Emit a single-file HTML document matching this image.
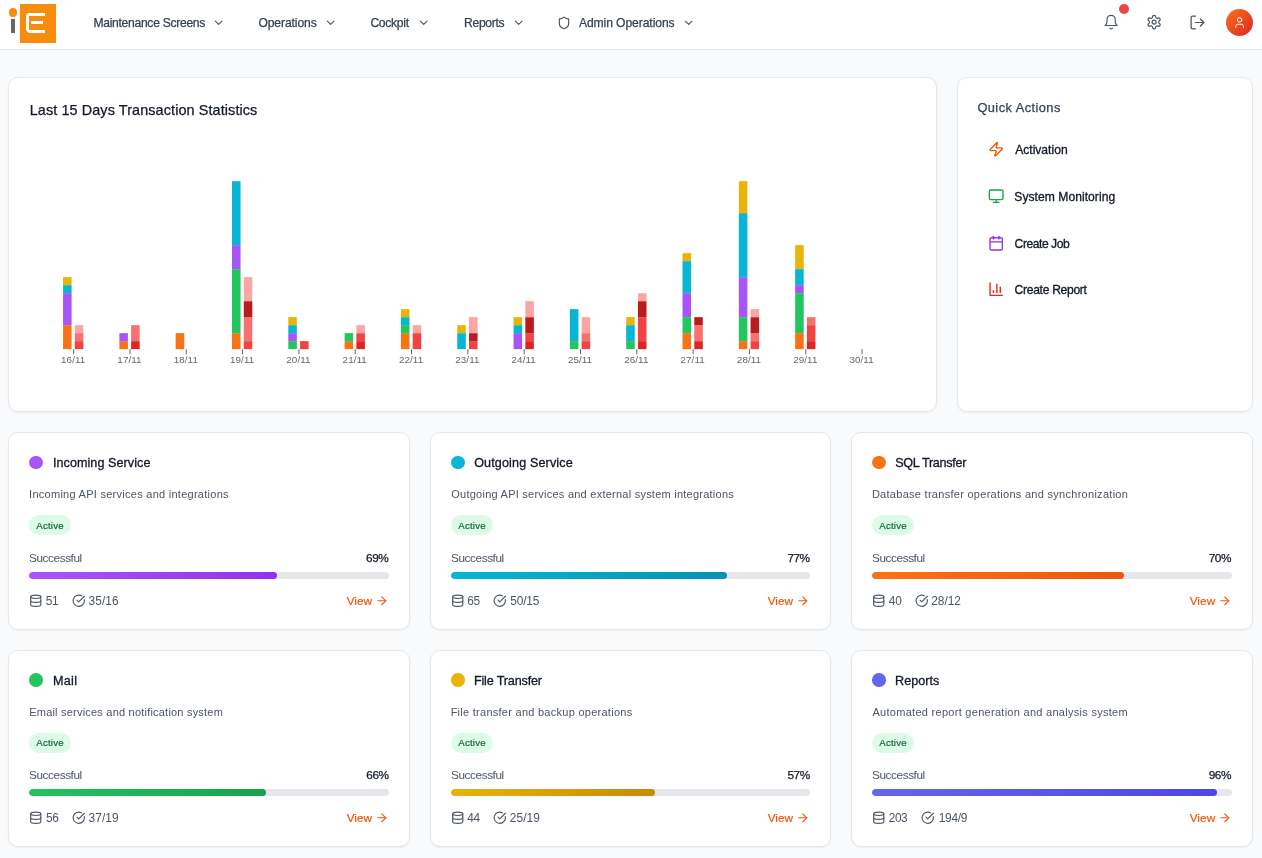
<!DOCTYPE html>
<html lang="en"><head><meta charset="utf-8"><title>Dashboard</title>
<style>
*{box-sizing:border-box;margin:0;padding:0}
html,body{width:1262px;height:858px;overflow:hidden}
body{background:#f9fafb;font-family:"Liberation Sans",sans-serif;position:relative;color:#111827}
.ic{position:absolute;display:block}
.tx{position:absolute;white-space:nowrap;display:block}
.hdr{position:absolute;left:0;top:0;width:1262px;height:50px;background:#fff;border-bottom:1px solid #e5e7eb}
.logo{position:absolute;left:0;top:0;width:60px;height:49px}
.ldot{position:absolute;left:8.7px;top:8.3px;width:8.8px;height:8.8px;border-radius:50%;background:#f78c0d}
.lstem{position:absolute;left:11.1px;top:19px;width:3.9px;height:14px;background:#6b646b}
.lsq{position:absolute;left:20px;top:4px;width:35.7px;height:38.6px;background:#f78c0d;overflow:hidden}
.le1{position:absolute;left:5.95px;top:8.65px;width:19.15px;height:20.45px;border:3.5px solid #fff;border-right:none;border-radius:3.4px 0 0 4.3px}
.le2{position:absolute;left:11px;top:16.9px;width:12.4px;height:3.5px;background:#fff}
.nav{color:#374151;-webkit-text-stroke:0.25px #374151}
.ndot{position:absolute;left:1119px;top:4px;width:10px;height:10px;border-radius:50%;background:#ef4444}
.avatar{position:absolute;left:1225.8px;top:8.8px;width:27.4px;height:27.4px;border-radius:50%;background:linear-gradient(135deg,#f97316,#dc2626)}
.card{position:absolute;background:#fff;border:1px solid #e5e7eb;border-radius:10px;box-shadow:0 1px 2px rgba(0,0,0,.05)}
.ct{color:#111827;-webkit-text-stroke:0.25px #111827}
.chart{position:absolute;left:-1px;top:-1px}
.tick{fill:#666;letter-spacing:0.1px;font-family:"Liberation Sans",sans-serif}
.qat{color:#334155;-webkit-text-stroke:0.25px #334155}
.qat2{color:#111827;-webkit-text-stroke:0.3px #111827}
.sdot{position:absolute;width:13.5px;height:13.5px;border-radius:50%}
.st{color:#111827;-webkit-text-stroke:0.3px #111827}
.sd{color:#4b5563}
.badge{position:absolute;width:42.1px;height:20.3px;border-radius:10.2px;background:#dcfce7}
.bt{color:#166534;-webkit-text-stroke:0.2px #166534}
.sl{color:#4b5563}
.sp{color:#111827;-webkit-text-stroke:0.25px #111827}
.trk{position:absolute;height:6.5px;border-radius:4px;background:#e5e7eb;overflow:hidden}
.fill{height:100%;border-radius:4px}
.sn{color:#4b5563}
.vw{color:#ea580c;-webkit-text-stroke:0.2px #ea580c}
</style></head><body>
<div class="hdr">
<div class="logo"><span class="ldot"></span><span class="lstem"></span><span class="lsq"><span class="le1"></span><span class="le2"></span></span></div>
<div class="navs">
<div class="navi">
<span class="tx nav" style="left:93.40px;top:14.61px;font-size:12.1px;line-height:16px;letter-spacing:-0.278px;">Maintenance Screens</span>
<svg class="ic" width="13.4" height="13.4" viewBox="0 0 24 24" fill="none" stroke="#4b5563" stroke-width="2" stroke-linecap="round" stroke-linejoin="round" style="left:212.05px;top:16.00px"><path d="m6 9 6 6 6-6"/></svg>
</div>
<div class="navi">
<span class="tx nav" style="left:258.42px;top:14.61px;font-size:12.1px;line-height:16px;letter-spacing:-0.091px;">Operations</span>
<svg class="ic" width="13.4" height="13.4" viewBox="0 0 24 24" fill="none" stroke="#4b5563" stroke-width="2" stroke-linecap="round" stroke-linejoin="round" style="left:324.10px;top:16.00px"><path d="m6 9 6 6 6-6"/></svg>
</div>
<div class="navi">
<span class="tx nav" style="left:370.40px;top:14.61px;font-size:12.1px;line-height:16px;letter-spacing:-0.283px;">Cockpit</span>
<svg class="ic" width="13.4" height="13.4" viewBox="0 0 24 24" fill="none" stroke="#4b5563" stroke-width="2" stroke-linecap="round" stroke-linejoin="round" style="left:416.70px;top:16.00px"><path d="m6 9 6 6 6-6"/></svg>
</div>
<div class="navi">
<span class="tx nav" style="left:464.00px;top:14.61px;font-size:12.1px;line-height:16px;letter-spacing:-0.283px;">Reports</span>
<svg class="ic" width="13.4" height="13.4" viewBox="0 0 24 24" fill="none" stroke="#4b5563" stroke-width="2" stroke-linecap="round" stroke-linejoin="round" style="left:512.30px;top:16.00px"><path d="m6 9 6 6 6-6"/></svg>
</div>
<div class="navi">
<svg class="ic" width="14" height="14" viewBox="0 0 24 24" fill="none" stroke="#4b5563" stroke-width="2" stroke-linecap="round" stroke-linejoin="round" style="left:557.40px;top:16.00px"><path d="M20 13c0 5-3.5 7.5-7.66 8.95a1 1 0 0 1-.67-.01C7.5 20.5 4 18 4 13V6a1 1 0 0 1 1-1c2 0 4.5-1.2 6.24-2.72a1.17 1.17 0 0 1 1.52 0C14.51 3.81 17 5 19 5a1 1 0 0 1 1 1z"/></svg>
<span class="tx nav" style="left:578.90px;top:14.61px;font-size:12.1px;line-height:16px;letter-spacing:-0.073px;">Admin Operations</span>
<svg class="ic" width="13.4" height="13.4" viewBox="0 0 24 24" fill="none" stroke="#4b5563" stroke-width="2" stroke-linecap="round" stroke-linejoin="round" style="left:682.30px;top:16.00px"><path d="m6 9 6 6 6-6"/></svg>
</div>
</div>
<div class="acts">
<svg class="ic" width="16.2" height="16.2" viewBox="0 0 24 24" fill="none" stroke="#4b5563" stroke-width="1.75" stroke-linecap="round" stroke-linejoin="round" style="left:1103.30px;top:14.10px"><path d="M6 8a6 6 0 0 1 12 0c0 7 3 9 3 9H3s3-2 3-9"/><path d="M10.3 21a1.94 1.94 0 0 0 3.4 0"/></svg>
<span class="ndot"></span>
<svg class="ic" width="16.2" height="16.2" viewBox="0 0 24 24" fill="none" stroke="#4b5563" stroke-width="1.75" stroke-linecap="round" stroke-linejoin="round" style="left:1146.30px;top:14.20px"><path d="M12.22 2h-.44a2 2 0 0 0-2 2v.18a2 2 0 0 1-1 1.73l-.43.25a2 2 0 0 1-2 0l-.15-.08a2 2 0 0 0-2.73.73l-.22.38a2 2 0 0 0 .73 2.73l.15.1a2 2 0 0 1 1 1.72v.51a2 2 0 0 1-1 1.74l-.15.09a2 2 0 0 0-.73 2.73l.22.38a2 2 0 0 0 2.73.73l.15-.08a2 2 0 0 1 2 0l.43.25a2 2 0 0 1 1 1.73V20a2 2 0 0 0 2 2h.44a2 2 0 0 0 2-2v-.18a2 2 0 0 1 1-1.73l.43-.25a2 2 0 0 1 2 0l.15.08a2 2 0 0 0 2.73-.73l.22-.39a2 2 0 0 0-.73-2.73l-.15-.08a2 2 0 0 1-1-1.74v-.5a2 2 0 0 1 1-1.74l.15-.09a2 2 0 0 0 .73-2.73l-.22-.38a2 2 0 0 0-2.73-.73l-.15.08a2 2 0 0 1-2 0l-.43-.25a2 2 0 0 1-1-1.73V4a2 2 0 0 0-2-2z"/><circle cx="12" cy="12" r="3"/></svg>
<svg class="ic" width="17" height="17" viewBox="0 0 24 24" fill="none" stroke="#4b5563" stroke-width="1.75" stroke-linecap="round" stroke-linejoin="round" style="left:1188.95px;top:13.70px"><path d="M9 21H5a2 2 0 0 1-2-2V5a2 2 0 0 1 2-2h4"/><polyline points="16 17 21 12 16 7"/><line x1="21" x2="9" y1="12" y2="12"/></svg>
<span class="avatar"><svg class="ic" width="13.2" height="13.2" viewBox="0 0 24 24" fill="none" stroke="#fff" stroke-width="1.8" stroke-linecap="round" stroke-linejoin="round" style="left:7.10px;top:7.30px"><path d="M19 21v-2a4 4 0 0 0-4-4H9a4 4 0 0 0-4 4v2"/><circle cx="12" cy="7" r="4"/></svg></span>
</div></div>
<div class="card cc" style="left:8px;top:77px;width:929px;height:335px">
<span class="tx ct" style="left:20.70px;top:21.61px;font-size:14.4px;line-height:20px;letter-spacing:0.108px;">Last 15 Days Transaction Statistics</span>
<svg class="chart" width="927" height="333" viewBox="8 77 927 333">
<rect x="63.05" y="325.15" width="8.55" height="24.0" fill="#f97316"/>
<rect x="63.05" y="293.15" width="8.55" height="32.0" fill="#a855f7"/>
<rect x="63.05" y="285.15" width="8.55" height="8.0" fill="#06b6d4"/>
<rect x="63.05" y="277.15" width="8.55" height="8.0" fill="#eab308"/>
<rect x="74.80" y="341.15" width="8.55" height="8.0" fill="#ef4444"/>
<rect x="74.80" y="333.15" width="8.55" height="8.0" fill="#f87171"/>
<rect x="74.80" y="325.15" width="8.55" height="8.0" fill="#fca5a5"/>
<line x1="73.65" x2="73.65" y1="349.15" y2="354.34999999999997" stroke="#666" stroke-width="1"/>
<text x="73.20" y="362.85" text-anchor="middle" class="tick" font-size="9.8">16/11</text>
<rect x="119.36" y="341.15" width="8.55" height="8.0" fill="#f97316"/>
<rect x="119.36" y="333.15" width="8.55" height="8.0" fill="#a855f7"/>
<rect x="131.11" y="341.15" width="8.55" height="8.0" fill="#dc2626"/>
<rect x="131.11" y="325.15" width="8.55" height="16.0" fill="#f87171"/>
<line x1="129.96" x2="129.96" y1="349.15" y2="354.34999999999997" stroke="#666" stroke-width="1"/>
<text x="129.51" y="362.85" text-anchor="middle" class="tick" font-size="9.8">17/11</text>
<rect x="175.68" y="333.15" width="8.55" height="16.0" fill="#f97316"/>
<line x1="186.28" x2="186.28" y1="349.15" y2="354.34999999999997" stroke="#666" stroke-width="1"/>
<text x="185.83" y="362.85" text-anchor="middle" class="tick" font-size="9.8">18/11</text>
<rect x="231.99" y="333.15" width="8.55" height="16.0" fill="#f97316"/>
<rect x="231.99" y="269.15" width="8.55" height="64.0" fill="#22c55e"/>
<rect x="231.99" y="245.15" width="8.55" height="24.0" fill="#a855f7"/>
<rect x="231.99" y="181.15" width="8.55" height="64.0" fill="#06b6d4"/>
<rect x="243.74" y="341.15" width="8.55" height="8.0" fill="#ef4444"/>
<rect x="243.74" y="317.15" width="8.55" height="24.0" fill="#f87171"/>
<rect x="243.74" y="301.15" width="8.55" height="16.0" fill="#b91c1c"/>
<rect x="243.74" y="277.15" width="8.55" height="24.0" fill="#fca5a5"/>
<line x1="242.59" x2="242.59" y1="349.15" y2="354.34999999999997" stroke="#666" stroke-width="1"/>
<text x="242.14" y="362.85" text-anchor="middle" class="tick" font-size="9.8">19/11</text>
<rect x="288.31" y="341.15" width="8.55" height="8.0" fill="#22c55e"/>
<rect x="288.31" y="333.15" width="8.55" height="8.0" fill="#a855f7"/>
<rect x="288.31" y="325.15" width="8.55" height="8.0" fill="#06b6d4"/>
<rect x="288.31" y="317.15" width="8.55" height="8.0" fill="#eab308"/>
<rect x="300.06" y="341.15" width="8.55" height="8.0" fill="#ef4444"/>
<line x1="298.91" x2="298.91" y1="349.15" y2="354.34999999999997" stroke="#666" stroke-width="1"/>
<text x="298.46" y="362.85" text-anchor="middle" class="tick" font-size="9.8">20/11</text>
<rect x="344.62" y="341.15" width="8.55" height="8.0" fill="#f97316"/>
<rect x="344.62" y="333.15" width="8.55" height="8.0" fill="#22c55e"/>
<rect x="356.37" y="341.15" width="8.55" height="8.0" fill="#dc2626"/>
<rect x="356.37" y="333.15" width="8.55" height="8.0" fill="#ef4444"/>
<rect x="356.37" y="325.15" width="8.55" height="8.0" fill="#fca5a5"/>
<line x1="355.22" x2="355.22" y1="349.15" y2="354.34999999999997" stroke="#666" stroke-width="1"/>
<text x="354.77" y="362.85" text-anchor="middle" class="tick" font-size="9.8">21/11</text>
<rect x="400.94" y="333.15" width="8.55" height="16.0" fill="#f97316"/>
<rect x="400.94" y="325.15" width="8.55" height="8.0" fill="#22c55e"/>
<rect x="400.94" y="317.15" width="8.55" height="8.0" fill="#06b6d4"/>
<rect x="400.94" y="309.15" width="8.55" height="8.0" fill="#eab308"/>
<rect x="412.69" y="333.15" width="8.55" height="16.0" fill="#ef4444"/>
<rect x="412.69" y="325.15" width="8.55" height="8.0" fill="#fca5a5"/>
<line x1="411.54" x2="411.54" y1="349.15" y2="354.34999999999997" stroke="#666" stroke-width="1"/>
<text x="411.09" y="362.85" text-anchor="middle" class="tick" font-size="9.8">22/11</text>
<rect x="457.25" y="333.15" width="8.55" height="16.0" fill="#06b6d4"/>
<rect x="457.25" y="325.15" width="8.55" height="8.0" fill="#eab308"/>
<rect x="469.00" y="341.15" width="8.55" height="8.0" fill="#ef4444"/>
<rect x="469.00" y="333.15" width="8.55" height="8.0" fill="#b91c1c"/>
<rect x="469.00" y="317.15" width="8.55" height="16.0" fill="#fca5a5"/>
<line x1="467.85" x2="467.85" y1="349.15" y2="354.34999999999997" stroke="#666" stroke-width="1"/>
<text x="467.40" y="362.85" text-anchor="middle" class="tick" font-size="9.8">23/11</text>
<rect x="513.57" y="333.15" width="8.55" height="16.0" fill="#a855f7"/>
<rect x="513.57" y="325.15" width="8.55" height="8.0" fill="#06b6d4"/>
<rect x="513.57" y="317.15" width="8.55" height="8.0" fill="#eab308"/>
<rect x="525.32" y="341.15" width="8.55" height="8.0" fill="#dc2626"/>
<rect x="525.32" y="333.15" width="8.55" height="8.0" fill="#ef4444"/>
<rect x="525.32" y="317.15" width="8.55" height="16.0" fill="#b91c1c"/>
<rect x="525.32" y="301.15" width="8.55" height="16.0" fill="#fca5a5"/>
<line x1="524.17" x2="524.17" y1="349.15" y2="354.34999999999997" stroke="#666" stroke-width="1"/>
<text x="523.72" y="362.85" text-anchor="middle" class="tick" font-size="9.8">24/11</text>
<rect x="569.88" y="341.15" width="8.55" height="8.0" fill="#22c55e"/>
<rect x="569.88" y="309.15" width="8.55" height="32.0" fill="#06b6d4"/>
<rect x="581.63" y="341.15" width="8.55" height="8.0" fill="#ef4444"/>
<rect x="581.63" y="333.15" width="8.55" height="8.0" fill="#f87171"/>
<rect x="581.63" y="317.15" width="8.55" height="16.0" fill="#fca5a5"/>
<line x1="580.48" x2="580.48" y1="349.15" y2="354.34999999999997" stroke="#666" stroke-width="1"/>
<text x="580.03" y="362.85" text-anchor="middle" class="tick" font-size="9.8">25/11</text>
<rect x="626.20" y="341.15" width="8.55" height="8.0" fill="#22c55e"/>
<rect x="626.20" y="325.15" width="8.55" height="16.0" fill="#06b6d4"/>
<rect x="626.20" y="317.15" width="8.55" height="8.0" fill="#eab308"/>
<rect x="637.95" y="341.15" width="8.55" height="8.0" fill="#dc2626"/>
<rect x="637.95" y="317.15" width="8.55" height="24.0" fill="#ef4444"/>
<rect x="637.95" y="301.15" width="8.55" height="16.0" fill="#b91c1c"/>
<rect x="637.95" y="293.15" width="8.55" height="8.0" fill="#fca5a5"/>
<line x1="636.80" x2="636.80" y1="349.15" y2="354.34999999999997" stroke="#666" stroke-width="1"/>
<text x="636.35" y="362.85" text-anchor="middle" class="tick" font-size="9.8">26/11</text>
<rect x="682.51" y="333.15" width="8.55" height="16.0" fill="#f97316"/>
<rect x="682.51" y="317.15" width="8.55" height="16.0" fill="#22c55e"/>
<rect x="682.51" y="293.15" width="8.55" height="24.0" fill="#a855f7"/>
<rect x="682.51" y="261.15" width="8.55" height="32.0" fill="#06b6d4"/>
<rect x="682.51" y="253.15" width="8.55" height="8.0" fill="#eab308"/>
<rect x="694.26" y="341.15" width="8.55" height="8.0" fill="#dc2626"/>
<rect x="694.26" y="325.15" width="8.55" height="16.0" fill="#f87171"/>
<rect x="694.26" y="317.15" width="8.55" height="8.0" fill="#b91c1c"/>
<line x1="693.11" x2="693.11" y1="349.15" y2="354.34999999999997" stroke="#666" stroke-width="1"/>
<text x="692.66" y="362.85" text-anchor="middle" class="tick" font-size="9.8">27/11</text>
<rect x="738.83" y="341.15" width="8.55" height="8.0" fill="#f97316"/>
<rect x="738.83" y="317.15" width="8.55" height="24.0" fill="#22c55e"/>
<rect x="738.83" y="277.15" width="8.55" height="40.0" fill="#a855f7"/>
<rect x="738.83" y="213.15" width="8.55" height="64.0" fill="#06b6d4"/>
<rect x="738.83" y="181.15" width="8.55" height="32.0" fill="#eab308"/>
<rect x="750.58" y="341.15" width="8.55" height="8.0" fill="#ef4444"/>
<rect x="750.58" y="333.15" width="8.55" height="8.0" fill="#f87171"/>
<rect x="750.58" y="317.15" width="8.55" height="16.0" fill="#b91c1c"/>
<rect x="750.58" y="309.15" width="8.55" height="8.0" fill="#fca5a5"/>
<line x1="749.43" x2="749.43" y1="349.15" y2="354.34999999999997" stroke="#666" stroke-width="1"/>
<text x="748.98" y="362.85" text-anchor="middle" class="tick" font-size="9.8">28/11</text>
<rect x="795.14" y="333.15" width="8.55" height="16.0" fill="#f97316"/>
<rect x="795.14" y="293.15" width="8.55" height="40.0" fill="#22c55e"/>
<rect x="795.14" y="285.15" width="8.55" height="8.0" fill="#a855f7"/>
<rect x="795.14" y="269.15" width="8.55" height="16.0" fill="#06b6d4"/>
<rect x="795.14" y="245.15" width="8.55" height="24.0" fill="#eab308"/>
<rect x="806.89" y="341.15" width="8.55" height="8.0" fill="#dc2626"/>
<rect x="806.89" y="325.15" width="8.55" height="16.0" fill="#ef4444"/>
<rect x="806.89" y="317.15" width="8.55" height="8.0" fill="#f87171"/>
<line x1="805.74" x2="805.74" y1="349.15" y2="354.34999999999997" stroke="#666" stroke-width="1"/>
<text x="805.29" y="362.85" text-anchor="middle" class="tick" font-size="9.8">29/11</text>
<line x1="862.06" x2="862.06" y1="349.15" y2="354.34999999999997" stroke="#666" stroke-width="1"/>
<text x="861.61" y="362.85" text-anchor="middle" class="tick" font-size="9.8">30/11</text>
</svg>
</div>
<div class="card qa" style="left:957px;top:77px;width:296px;height:335px">
<span class="tx qat" style="left:19.40px;top:22.06px;font-size:12.8px;line-height:16px;letter-spacing:0.450px;">Quick Actions</span>
<div class="qai">
<svg class="ic" width="16.4" height="16.4" viewBox="0 0 24 24" fill="none" stroke="#ea580c" stroke-width="2" stroke-linecap="round" stroke-linejoin="round" style="left:30.05px;top:63.30px"><path d="M4 14a1 1 0 0 1-.78-1.63l9.9-10.2a.5.5 0 0 1 .86.46l-1.92 6.02A1 1 0 0 0 13 10h7a1 1 0 0 1 .78 1.63l-9.9 10.2a.5.5 0 0 1-.86-.46l1.92-6.02A1 1 0 0 0 11 14z"/></svg>
<span class="tx qat2" style="left:57.17px;top:63.71px;font-size:12.1px;line-height:16px;letter-spacing:0.002px;">Activation</span>
</div>
<div class="qai">
<svg class="ic" width="16.4" height="16.4" viewBox="0 0 24 24" fill="none" stroke="#16a34a" stroke-width="2" stroke-linecap="round" stroke-linejoin="round" style="left:30.05px;top:110.10px"><rect width="20" height="14" x="2" y="3" rx="2"/><line x1="8" x2="16" y1="21" y2="21"/><line x1="12" x2="12" y1="17" y2="21"/></svg>
<span class="tx qat2" style="left:56.28px;top:110.61px;font-size:12.1px;line-height:16px;letter-spacing:0.045px;">System Monitoring</span>
</div>
<div class="qai">
<svg class="ic" width="16.4" height="16.4" viewBox="0 0 24 24" fill="none" stroke="#9333ea" stroke-width="2" stroke-linecap="round" stroke-linejoin="round" style="left:30.05px;top:157.25px"><path d="M8 2v4"/><path d="M16 2v4"/><rect width="18" height="18" x="3" y="4" rx="2"/><path d="M3 10h18"/></svg>
<span class="tx qat2" style="left:56.61px;top:157.51px;font-size:12.1px;line-height:16px;letter-spacing:-0.450px;">Create Job</span>
</div>
<div class="qai">
<svg class="ic" width="16.4" height="16.4" viewBox="0 0 24 24" fill="none" stroke="#dc2626" stroke-width="2" stroke-linecap="round" stroke-linejoin="round" style="left:30.05px;top:203.25px"><path d="M3 3v18h18"/><path d="M18 17V9"/><path d="M13 17V5"/><path d="M8 17v-3"/></svg>
<span class="tx qat2" style="left:56.61px;top:204.41px;font-size:12.1px;line-height:16px;letter-spacing:-0.301px;">Create Report</span>
</div>
</div>
<div class="card sv" style="left:8px;top:432px;width:402px;height:198px">
<div class="sh"><span class="sdot" style="background:#a855f7;left:20.00px;top:22.50px"></span>
<span class="tx st" style="left:43.90px;top:21.63px;font-size:12.6px;line-height:16px;letter-spacing:0.063px;">Incoming Service</span></div>
<span class="tx sd" style="left:20.10px;top:52.89px;font-size:11.0px;line-height:16px;letter-spacing:0.268px;">Incoming API services and integrations</span>
<span class="badge" style="left:19.90px;top:81.90px"><span class="tx bt" style="left:7.40px;top:2.64px;font-size:9.7px;line-height:16px;letter-spacing:0.196px;">Active</span></span>
<div class="pr"><span class="tx sl" style="left:20.00px;top:116.91px;font-size:11.8px;line-height:16px;letter-spacing:-0.425px;">Successful</span>
<span class="tx sp" style="left:357.11px;top:116.81px;font-size:11.8px;line-height:16px;letter-spacing:-0.450px;">69%</span></div>
<div class="trk" style="left:20.00px;top:139.20px;width:359.7px"><div class="fill" style="width:69.00%;background:linear-gradient(90deg,#a855f7,#9333ea)"></div></div>
<div class="sb">
<svg class="ic" width="13.5" height="13.5" viewBox="0 0 24 24" fill="none" stroke="#4b5563" stroke-width="2" stroke-linecap="round" stroke-linejoin="round" style="left:19.75px;top:160.70px"><ellipse cx="12" cy="5" rx="9" ry="3"/><path d="M3 5V19A9 3 0 0 0 21 19V5"/><path d="M3 12A9 3 0 0 0 21 12"/></svg>
<span class="tx sn" style="left:36.82px;top:159.68px;font-size:11.9px;line-height:16px;letter-spacing:-0.450px;">51</span>
<svg class="ic" width="13.5" height="13.5" viewBox="0 0 24 24" fill="none" stroke="#4b5563" stroke-width="2" stroke-linecap="round" stroke-linejoin="round" style="left:63.00px;top:160.95px"><path d="M21.801 10A10 10 0 1 1 17 3.335"/><path d="m9 11 3 3L22 4"/></svg>
<span class="tx sn" style="left:79.55px;top:159.68px;font-size:11.9px;line-height:16px;letter-spacing:0.069px;">35/16</span>
<span class="tx vw" style="left:337.68px;top:159.71px;font-size:11.8px;line-height:16px;letter-spacing:-0.018px;">View</span>
<svg class="ic" width="13.6" height="13.6" viewBox="0 0 24 24" fill="none" stroke="#ea580c" stroke-width="2" stroke-linecap="round" stroke-linejoin="round" style="left:365.90px;top:160.90px"><path d="M5 12h14"/><path d="m12 5 7 7-7 7"/></svg>
</div></div>
<div class="card sv" style="left:430px;top:432px;width:401px;height:198px">
<div class="sh"><span class="sdot" style="background:#06b6d4;left:20.00px;top:22.50px"></span>
<span class="tx st" style="left:43.15px;top:21.63px;font-size:12.6px;line-height:16px;letter-spacing:0.132px;">Outgoing Service</span></div>
<span class="tx sd" style="left:20.30px;top:52.89px;font-size:11.0px;line-height:16px;letter-spacing:0.242px;">Outgoing API services and external system integrations</span>
<span class="badge" style="left:19.90px;top:81.90px"><span class="tx bt" style="left:7.40px;top:2.64px;font-size:9.7px;line-height:16px;letter-spacing:0.196px;">Active</span></span>
<div class="pr"><span class="tx sl" style="left:20.00px;top:116.91px;font-size:11.8px;line-height:16px;letter-spacing:-0.425px;">Successful</span>
<span class="tx sp" style="left:356.38px;top:116.81px;font-size:11.8px;line-height:16px;letter-spacing:-0.450px;">77%</span></div>
<div class="trk" style="left:20.00px;top:139.20px;width:358.7px"><div class="fill" style="width:77.00%;background:linear-gradient(90deg,#06b6d4,#0891b2)"></div></div>
<div class="sb">
<svg class="ic" width="13.5" height="13.5" viewBox="0 0 24 24" fill="none" stroke="#4b5563" stroke-width="2" stroke-linecap="round" stroke-linejoin="round" style="left:19.75px;top:160.70px"><ellipse cx="12" cy="5" rx="9" ry="3"/><path d="M3 5V19A9 3 0 0 0 21 19V5"/><path d="M3 12A9 3 0 0 0 21 12"/></svg>
<span class="tx sn" style="left:36.29px;top:159.68px;font-size:11.9px;line-height:16px;letter-spacing:-0.450px;">65</span>
<svg class="ic" width="13.5" height="13.5" viewBox="0 0 24 24" fill="none" stroke="#4b5563" stroke-width="2" stroke-linecap="round" stroke-linejoin="round" style="left:62.00px;top:160.95px"><path d="M21.801 10A10 10 0 1 1 17 3.335"/><path d="m9 11 3 3L22 4"/></svg>
<span class="tx sn" style="left:79.35px;top:159.68px;font-size:11.9px;line-height:16px;letter-spacing:-0.179px;">50/15</span>
<span class="tx vw" style="left:336.68px;top:159.71px;font-size:11.8px;line-height:16px;letter-spacing:-0.018px;">View</span>
<svg class="ic" width="13.6" height="13.6" viewBox="0 0 24 24" fill="none" stroke="#ea580c" stroke-width="2" stroke-linecap="round" stroke-linejoin="round" style="left:364.90px;top:160.90px"><path d="M5 12h14"/><path d="m12 5 7 7-7 7"/></svg>
</div></div>
<div class="card sv" style="left:851px;top:432px;width:402px;height:198px">
<div class="sh"><span class="sdot" style="background:#f97316;left:20.00px;top:22.50px"></span>
<span class="tx st" style="left:43.20px;top:21.63px;font-size:12.6px;line-height:16px;letter-spacing:-0.296px;">SQL Transfer</span></div>
<span class="tx sd" style="left:19.89px;top:52.89px;font-size:11.0px;line-height:16px;letter-spacing:0.282px;">Database transfer operations and synchronization</span>
<span class="badge" style="left:19.90px;top:81.90px"><span class="tx bt" style="left:7.40px;top:2.64px;font-size:9.7px;line-height:16px;letter-spacing:0.196px;">Active</span></span>
<div class="pr"><span class="tx sl" style="left:20.00px;top:116.91px;font-size:11.8px;line-height:16px;letter-spacing:-0.425px;">Successful</span>
<span class="tx sp" style="left:356.72px;top:116.81px;font-size:11.8px;line-height:16px;letter-spacing:-0.450px;">70%</span></div>
<div class="trk" style="left:20.00px;top:139.20px;width:359.5px"><div class="fill" style="width:70.00%;background:linear-gradient(90deg,#f97316,#ea580c)"></div></div>
<div class="sb">
<svg class="ic" width="13.5" height="13.5" viewBox="0 0 24 24" fill="none" stroke="#4b5563" stroke-width="2" stroke-linecap="round" stroke-linejoin="round" style="left:19.75px;top:160.70px"><ellipse cx="12" cy="5" rx="9" ry="3"/><path d="M3 5V19A9 3 0 0 0 21 19V5"/><path d="M3 12A9 3 0 0 0 21 12"/></svg>
<span class="tx sn" style="left:36.82px;top:159.68px;font-size:11.9px;line-height:16px;letter-spacing:-0.239px;">40</span>
<svg class="ic" width="13.5" height="13.5" viewBox="0 0 24 24" fill="none" stroke="#4b5563" stroke-width="2" stroke-linecap="round" stroke-linejoin="round" style="left:63.00px;top:160.95px"><path d="M21.801 10A10 10 0 1 1 17 3.335"/><path d="m9 11 3 3L22 4"/></svg>
<span class="tx sn" style="left:79.26px;top:159.68px;font-size:11.9px;line-height:16px;letter-spacing:-0.036px;">28/12</span>
<span class="tx vw" style="left:337.64px;top:159.71px;font-size:11.8px;line-height:16px;letter-spacing:0.069px;">View</span>
<svg class="ic" width="13.6" height="13.6" viewBox="0 0 24 24" fill="none" stroke="#ea580c" stroke-width="2" stroke-linecap="round" stroke-linejoin="round" style="left:365.80px;top:160.90px"><path d="M5 12h14"/><path d="m12 5 7 7-7 7"/></svg>
</div></div>
<div class="card sv" style="left:8px;top:650px;width:402px;height:197px">
<div class="sh"><span class="sdot" style="background:#22c55e;left:20.00px;top:22.15px"></span>
<span class="tx st" style="left:44.03px;top:22.38px;font-size:12.6px;line-height:16px;letter-spacing:0.300px;">Mail</span></div>
<span class="tx sd" style="left:20.22px;top:52.89px;font-size:11.0px;line-height:16px;letter-spacing:0.210px;">Email services and notification system</span>
<span class="badge" style="left:19.90px;top:81.90px"><span class="tx bt" style="left:7.40px;top:1.94px;font-size:9.7px;line-height:16px;letter-spacing:0.195px;">Active</span></span>
<div class="pr"><span class="tx sl" style="left:20.00px;top:115.81px;font-size:11.8px;line-height:16px;letter-spacing:-0.425px;">Successful</span>
<span class="tx sp" style="left:357.36px;top:115.71px;font-size:11.8px;line-height:16px;letter-spacing:-0.450px;">66%</span></div>
<div class="trk" style="left:20.00px;top:138.20px;width:359.7px"><div class="fill" style="width:66.00%;background:linear-gradient(90deg,#22c55e,#16a34a)"></div></div>
<div class="sb">
<svg class="ic" width="13.5" height="13.5" viewBox="0 0 24 24" fill="none" stroke="#4b5563" stroke-width="2" stroke-linecap="round" stroke-linejoin="round" style="left:19.75px;top:159.70px"><ellipse cx="12" cy="5" rx="9" ry="3"/><path d="M3 5V19A9 3 0 0 0 21 19V5"/><path d="M3 12A9 3 0 0 0 21 12"/></svg>
<span class="tx sn" style="left:37.06px;top:158.68px;font-size:11.9px;line-height:16px;letter-spacing:-0.450px;">56</span>
<svg class="ic" width="13.5" height="13.5" viewBox="0 0 24 24" fill="none" stroke="#4b5563" stroke-width="2" stroke-linecap="round" stroke-linejoin="round" style="left:63.00px;top:159.95px"><path d="M21.801 10A10 10 0 1 1 17 3.335"/><path d="m9 11 3 3L22 4"/></svg>
<span class="tx sn" style="left:79.55px;top:158.68px;font-size:11.9px;line-height:16px;letter-spacing:0.070px;">37/19</span>
<span class="tx vw" style="left:337.68px;top:158.71px;font-size:11.8px;line-height:16px;letter-spacing:-0.018px;">View</span>
<svg class="ic" width="13.6" height="13.6" viewBox="0 0 24 24" fill="none" stroke="#ea580c" stroke-width="2" stroke-linecap="round" stroke-linejoin="round" style="left:365.90px;top:159.90px"><path d="M5 12h14"/><path d="m12 5 7 7-7 7"/></svg>
</div></div>
<div class="card sv" style="left:430px;top:650px;width:401px;height:197px">
<div class="sh"><span class="sdot" style="background:#eab308;left:20.00px;top:22.15px"></span>
<span class="tx st" style="left:42.96px;top:22.38px;font-size:12.6px;line-height:16px;letter-spacing:-0.160px;">File Transfer</span></div>
<span class="tx sd" style="left:19.63px;top:52.89px;font-size:11.0px;line-height:16px;letter-spacing:0.268px;">File transfer and backup operations</span>
<span class="badge" style="left:19.90px;top:81.90px"><span class="tx bt" style="left:7.40px;top:1.94px;font-size:9.7px;line-height:16px;letter-spacing:0.195px;">Active</span></span>
<div class="pr"><span class="tx sl" style="left:20.00px;top:115.81px;font-size:11.8px;line-height:16px;letter-spacing:-0.425px;">Successful</span>
<span class="tx sp" style="left:356.48px;top:115.71px;font-size:11.8px;line-height:16px;letter-spacing:-0.450px;">57%</span></div>
<div class="trk" style="left:20.00px;top:138.20px;width:358.7px"><div class="fill" style="width:57.00%;background:linear-gradient(90deg,#eab308,#ca8a04)"></div></div>
<div class="sb">
<svg class="ic" width="13.5" height="13.5" viewBox="0 0 24 24" fill="none" stroke="#4b5563" stroke-width="2" stroke-linecap="round" stroke-linejoin="round" style="left:19.75px;top:159.70px"><ellipse cx="12" cy="5" rx="9" ry="3"/><path d="M3 5V19A9 3 0 0 0 21 19V5"/><path d="M3 12A9 3 0 0 0 21 12"/></svg>
<span class="tx sn" style="left:36.29px;top:158.68px;font-size:11.9px;line-height:16px;letter-spacing:-0.450px;">44</span>
<svg class="ic" width="13.5" height="13.5" viewBox="0 0 24 24" fill="none" stroke="#4b5563" stroke-width="2" stroke-linecap="round" stroke-linejoin="round" style="left:62.00px;top:159.95px"><path d="M21.801 10A10 10 0 1 1 17 3.335"/><path d="m9 11 3 3L22 4"/></svg>
<span class="tx sn" style="left:78.86px;top:158.68px;font-size:11.9px;line-height:16px;letter-spacing:0.055px;">25/19</span>
<span class="tx vw" style="left:336.68px;top:158.71px;font-size:11.8px;line-height:16px;letter-spacing:-0.018px;">View</span>
<svg class="ic" width="13.6" height="13.6" viewBox="0 0 24 24" fill="none" stroke="#ea580c" stroke-width="2" stroke-linecap="round" stroke-linejoin="round" style="left:364.90px;top:159.90px"><path d="M5 12h14"/><path d="m12 5 7 7-7 7"/></svg>
</div></div>
<div class="card sv" style="left:851px;top:650px;width:402px;height:197px">
<div class="sh"><span class="sdot" style="background:#6366f1;left:20.00px;top:22.15px"></span>
<span class="tx st" style="left:43.12px;top:22.38px;font-size:12.6px;line-height:16px;letter-spacing:0.030px;">Reports</span></div>
<span class="tx sd" style="left:20.50px;top:52.89px;font-size:11.0px;line-height:16px;letter-spacing:0.283px;">Automated report generation and analysis system</span>
<span class="badge" style="left:19.90px;top:81.90px"><span class="tx bt" style="left:7.40px;top:1.94px;font-size:9.7px;line-height:16px;letter-spacing:0.195px;">Active</span></span>
<div class="pr"><span class="tx sl" style="left:20.00px;top:115.81px;font-size:11.8px;line-height:16px;letter-spacing:-0.425px;">Successful</span>
<span class="tx sp" style="left:356.70px;top:115.71px;font-size:11.8px;line-height:16px;letter-spacing:-0.450px;">96%</span></div>
<div class="trk" style="left:20.00px;top:138.20px;width:359.5px"><div class="fill" style="width:96.00%;background:linear-gradient(90deg,#6366f1,#4f46e5)"></div></div>
<div class="sb">
<svg class="ic" width="13.5" height="13.5" viewBox="0 0 24 24" fill="none" stroke="#4b5563" stroke-width="2" stroke-linecap="round" stroke-linejoin="round" style="left:19.75px;top:159.70px"><ellipse cx="12" cy="5" rx="9" ry="3"/><path d="M3 5V19A9 3 0 0 0 21 19V5"/><path d="M3 12A9 3 0 0 0 21 12"/></svg>
<span class="tx sn" style="left:36.76px;top:158.68px;font-size:11.9px;line-height:16px;letter-spacing:-0.450px;">203</span>
<svg class="ic" width="13.5" height="13.5" viewBox="0 0 24 24" fill="none" stroke="#4b5563" stroke-width="2" stroke-linecap="round" stroke-linejoin="round" style="left:68.95px;top:159.95px"><path d="M21.801 10A10 10 0 1 1 17 3.335"/><path d="m9 11 3 3L22 4"/></svg>
<span class="tx sn" style="left:86.73px;top:158.68px;font-size:11.9px;line-height:16px;letter-spacing:-0.266px;">194/9</span>
<span class="tx vw" style="left:337.64px;top:158.71px;font-size:11.8px;line-height:16px;letter-spacing:0.069px;">View</span>
<svg class="ic" width="13.6" height="13.6" viewBox="0 0 24 24" fill="none" stroke="#ea580c" stroke-width="2" stroke-linecap="round" stroke-linejoin="round" style="left:365.80px;top:159.90px"><path d="M5 12h14"/><path d="m12 5 7 7-7 7"/></svg>
</div></div>
</body></html>
